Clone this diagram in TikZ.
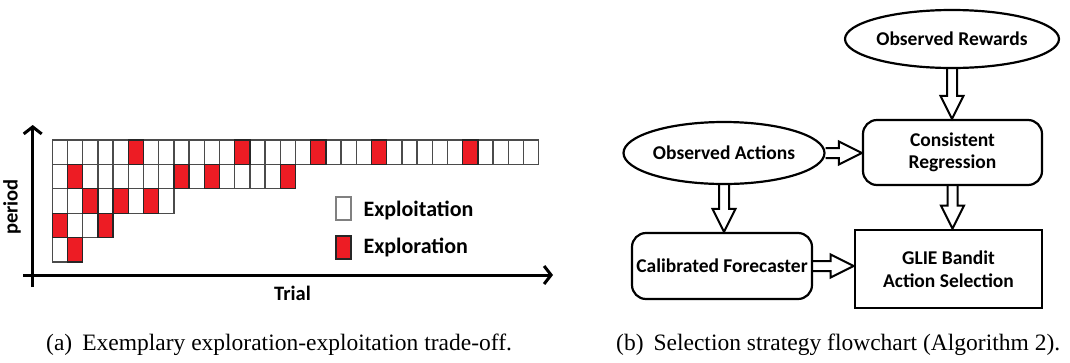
\documentclass[tikz,border=0pt]{standalone}
\usepackage{fontspec}
\setmainfont{Liberation Serif}
\newfontfamily\calib{Carlito}
\usetikzlibrary{arrows.meta,calc,shapes.geometric}
\definecolor{xred}{RGB}{237,28,36}
\definecolor{cellgray}{RGB}{75,75,75}
\begin{document}
\begin{tikzpicture}[x=1pt,y=-1pt,
  lab/.style={font=\calib\bfseries\fontsize{19.5}{22.5}\selectfont},
  leglab/.style={font=\calib\bfseries\fontsize{22}{24}\selectfont},
  axlab/.style={font=\calib\bfseries\fontsize{20.5}{23}\selectfont},
  cell/.style={draw=cellgray,line width=1.3pt,fill=white},
  redcell/.style={draw=black!85,line width=1.3pt,fill=xred},
  axis/.style={line width=3pt,-{Straight Barb[length=7pt,width=18pt,line width=3pt]}},
  oval/.style={ellipse,draw,line width=2.2pt,lab,inner sep=0pt},
  rbox/.style={draw,line width=2.2pt,rounded corners=14pt,lab,align=center},
  sbox/.style={draw,line width=2.6pt,lab,align=center},
  blk/.style={draw,line width=2pt,line join=miter},
  downarrow/.style={to path={let \p1=(\tikztostart),\p2=(\tikztotarget) in
     (\x1-5pt,\y1) -- (\x1-5pt,\y2+23pt) -- (\x1-11.5pt,\y2+23pt) -- (\x1,\y2)
     -- (\x1+11.5pt,\y2+23pt) -- (\x1+5pt,\y2+23pt) -- (\x1+5pt,\y1)}},
  rightarrow/.style={to path={let \p1=(\tikztostart),\p2=(\tikztotarget) in
     (\x1,\y1+5pt) -- (\x2-23pt,\y1+5pt) -- (\x2-23pt,\y1+11.5pt) -- (\x2,\y1)
     -- (\x2-23pt,\y1-11.5pt) -- (\x2-23pt,\y1-5pt) -- (\x1,\y1-5pt)}},
  captext/.style={font=\fontsize{23.5}{26}\selectfont,anchor=base west,inner sep=0pt}
]
\useasboundingbox (0,0) rectangle (1070,362);

% ---------- (a) grid ----------
\foreach \r/\n in {0/31,1/15,2/7,3/3,4/1}
  \foreach \c in {0,...,\n}
    \draw[cell] ({52.3+15.2*\c},{140+24.4*\r}) rectangle ++(15.2,24.4);
\foreach \r/\c in {0/5,0/12,0/17,0/21,0/27,1/1,1/8,1/10,1/15,2/2,2/4,2/6,3/0,3/3,4/1}
  \draw[redcell] ({52.3+15.2*\c},{140+24.4*\r}) rectangle ++(15.2,24.4);

\coordinate (yb) at (32.7,287);
\coordinate (yt) at (32.7,125);
\coordinate (xl) at (23,275);
\coordinate (xr) at (553,275);
\draw[axis] (yb) -- (yt);
\draw[axis] (xl) -- (xr);

\node[axlab,rotate=90] (period) at (12,207) {period};
\node[axlab] (trial) at (292.5,293) {Trial};

\draw[cell,draw=gray] (336,197) rectangle (351,220);
\node[leglab,anchor=west] (expt) at (360,210.5) {Exploitation};
\draw[redcell] (336,236) rectangle (351,259);
\node[leglab,anchor=west] (expr) at (360,247) {Exploration};

% ---------- (b) flowchart ----------
\node[oval,minimum width=190pt,minimum height=58pt] (rew) at (952,39) {Observed Rewards};
\node[oval,minimum width=191pt,minimum height=62pt] (act) at (724,153) {Observed Actions};
\node[rbox,minimum width=179pt,minimum height=65pt] (reg) at (952.5,152.5) {Consistent\\Regression};
\node[rbox,minimum width=180pt,minimum height=66pt] (cal) at (722,266) {Calibrated Forecaster};
\node[sbox,minimum width=187pt,minimum height=78pt] (glie) at (948.5,269) {GLIE Bandit\\Action Selection};

\draw[blk,downarrow] (rew.south) to (reg.north);
\draw[blk,rightarrow] (act.east) to (reg.west);
\draw[blk,downarrow] (act.south) to (cal.north);
\draw[blk,downarrow] (reg.south) to (glie.north);
\draw[blk,rightarrow] (cal.east) to (glie.west);

% ---------- captions ----------
\node[captext] (capa) at (46,350) {(a)\hspace{10pt}Exemplary exploration-exploitation trade-off.};
\node[captext] (capb) at (616,350) {(b)\hspace{10pt}Selection strategy flowchart (Algorithm 2).};
\end{tikzpicture}
\end{document}
